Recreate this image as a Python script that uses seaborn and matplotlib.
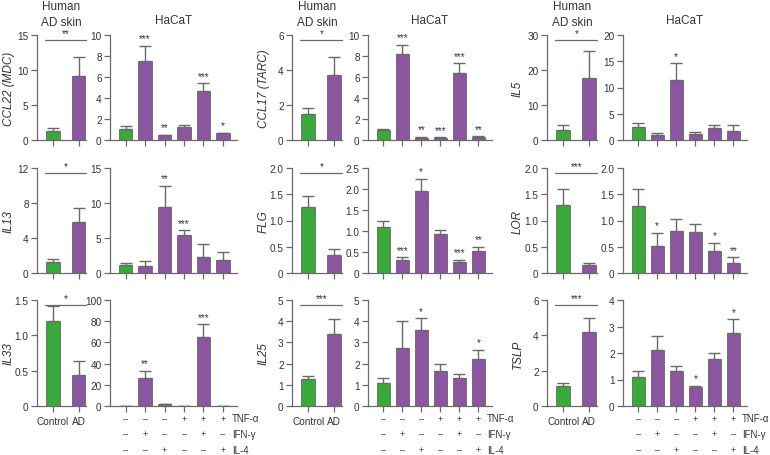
import numpy as np
import pandas as pd
import matplotlib
matplotlib.use("Agg")
import matplotlib.pyplot as plt
import matplotlib.transforms as mtransforms
import seaborn as sns

# ── Data ──────────────────────────────────────────────────────────────────────
genes = ["CCL22 (MDC)", "CCL17 (TARC)", "IL5",
         "IL13", "FLG", "LOR",
         "IL33", "IL25", "TSLP"]

skin_groups = ["Control", "AD"]
hacat_groups = ["1", "2", "3", "4", "5", "6"]

skin_mean = [[1.35, 9.1], [1.5, 3.7], [3.0, 17.8],
             [1.25, 5.8], [1.25, 0.35], [1.3, 0.15],
             [1.2, 0.44], [1.27, 3.38], [1.15, 4.2]]
skin_err = [[0.3, 2.7], [0.35, 1.05], [1.3, 7.5],
            [0.35, 1.6], [0.22, 0.1], [0.3, 0.05],
            [0.22, 0.19], [0.13, 0.72], [0.15, 0.77]]
skin_sig = ["**", "*", "*", "*", "*", "***", "*", "***", "***"]

hacat_mean = [[1.05, 7.55, 0.45, 1.25, 4.7, 0.65],
              [1.0, 8.2, 0.2, 0.2, 6.4, 0.3],
              [2.4, 0.95, 11.4, 1.1, 2.3, 1.7],
              [1.1, 1.05, 9.5, 5.5, 2.3, 1.9],
              [1.1, 0.32, 1.96, 0.92, 0.26, 0.52],
              [1.27, 0.52, 0.8, 0.78, 0.42, 0.2],
              [0.3, 26, 1.5, 0.2, 65.5, 0.3],
              [1.1, 2.75, 3.57, 1.65, 1.3, 2.23],
              [1.1, 2.12, 1.32, 0.72, 1.78, 2.77]]
hacat_err = [[0.3, 1.45, 0.05, 0.2, 0.7, 0.05],
             [0.05, 0.85, 0.1, 0.05, 0.9, 0.05],
             [0.8, 0.35, 3.2, 0.4, 0.5, 1.2],
             [0.4, 0.6, 2.9, 0.6, 1.8, 1.1],
             [0.14, 0.05, 0.29, 0.11, 0.06, 0.1],
             [0.33, 0.25, 0.22, 0.16, 0.16, 0.1],
             [0.0, 7.0, 0.0, 0.0, 11.5, 0.0],
             [0.23, 1.28, 0.56, 0.35, 0.22, 0.42],
             [0.23, 0.53, 0.2, 0.03, 0.22, 0.5]]
hacat_sig = [["", "***", "**", "", "***", "*"],
             ["", "***", "**", "***", "***", "**"],
             ["", "", "*", "", "", ""],
             ["", "", "**", "***", "", ""],
             ["", "***", "*", "", "***", "**"],
             ["", "*", "", "", "*", "**"],
             ["", "**", "", "", "***", ""],
             ["", "", "*", "", "", "*"],
             ["", "", "", "*", "", "*"]]

skin_ymax = [15, 6, 30, 12, 2.0, 2.0, 1.5, 5, 6]
skin_step = [5, 2, 10, 4, 0.5, 0.5, 0.5, 1, 2]
hacat_ymax = [10, 10, 20, 15, 2.5, 2.0, 100, 5, 4]
hacat_step = [2, 2, 5, 5, 0.5, 0.5, 20, 1, 1]

treatments = ["TNF-α", "IFN-γ", "IL-4"]
treat_signs = [["–", "–", "–", "+", "+", "+"],
               ["–", "+", "–", "–", "+", "–"],
               ["–", "–", "+", "–", "–", "+"]]

# ── Style ─────────────────────────────────────────────────────────────────────
GREEN = "#3aa83a"
PURPLE = "#8c55a0"
GREY = "#6a6a6a"
TXT = "#333333"

sns.set_theme(style="ticks")
plt.rcParams["font.family"] = ["Liberation Sans", "DejaVu Sans"]
plt.rcParams["axes.edgecolor"] = GREY
plt.rcParams["xtick.color"] = GREY
plt.rcParams["ytick.color"] = GREY
plt.rcParams["xtick.labelcolor"] = TXT
plt.rcParams["ytick.labelcolor"] = TXT

W, H = 770, 456
fig = plt.figure(figsize=(W / 100, H / 100), dpi=100)

rows_px = [(36, 141), (169, 274), (301, 407)]
skin_cols_px = [(37, 86), (292, 342), (547, 597)]
hacat_cols_px = [(110, 237), (368, 492), (623, 747)]
ylabel_right_px = [15, 270, 524]


def add_ax(xpx, ypx):
    x0, x1 = xpx
    top, bot = ypx
    return fig.add_axes([x0 / W, 1 - bot / H, (x1 - x0) / W, (bot - top) / H])


def fmt_ticks(ax, ymax, step):
    ticks = np.arange(0, ymax + step / 2, step)
    ax.set_ylim(0, ymax)
    ax.set_yticks(ticks)
    labels = []
    for t in ticks:
        if t == 0:
            labels.append("0")
        elif step < 1:
            labels.append(f"{t:.1f}")
        else:
            labels.append(f"{t:g}")
    ax.set_yticklabels(labels, fontsize=7.2)


def style(ax):
    sns.despine(ax=ax)
    ax.tick_params(axis="y", length=4, width=0.9, pad=2)
    ax.tick_params(axis="x", length=4, width=0.9, pad=3)
    for s in ["left", "bottom"]:
        ax.spines[s].set_linewidth(0.9)
    ax.set_xlabel("")
    ax.set_ylabel("")


def bars(ax, groups, mean, err, colors, width):
    df = pd.DataFrame({"group": groups, "value": mean})
    sns.barplot(data=df, x="group", y="value", hue="group", palette=colors,
                order=groups, hue_order=groups, width=width, errorbar=None,
                saturation=1, legend=False, edgecolor="#555555",
                linewidth=0.5, ax=ax)
    xs = np.arange(len(groups))
    ax.errorbar(xs, mean, yerr=[np.zeros(len(mean)), err], fmt="none",
                ecolor=GREY, elinewidth=1, capsize=4, capthick=1, zorder=1)
    return xs


for i, gene in enumerate(genes):
    r, c = divmod(i, 3)

    # Human AD skin panel
    ax = add_ax(skin_cols_px[c], rows_px[r])
    bars(ax, skin_groups, skin_mean[i], skin_err[i], [GREEN, PURPLE], 0.53)
    style(ax)
    fmt_ticks(ax, skin_ymax[i], skin_step[i])
    ax.set_xlim(-0.62, 1.29)
    ymax = skin_ymax[i]
    ax.plot([-0.3, 1.29], [ymax * 0.955] * 2, color=GREY, lw=0.9,
            clip_on=False)
    ax.text(0.5, ymax * 0.975, skin_sig[i], ha="center", va="bottom",
            fontsize=7, color=TXT)
    if r == 2:
        ax.set_xticks([0, 1])
        ax.set_xticklabels(skin_groups, fontsize=7.2)
    else:
        ax.set_xticklabels([])
    ax.set_ylabel(gene, fontsize=8.5, style="italic", color=TXT)
    x0, x1 = skin_cols_px[c]
    ax.yaxis.set_label_coords((ylabel_right_px[c] - x0) / (x1 - x0), 0.5)
    if r == 0:
        ax.text(0.5, 1 - 0.5 / H, "Human\nAD skin",
                transform=mtransforms.blended_transform_factory(
                    ax.transAxes, fig.transFigure),
                ha="center", va="top", fontsize=8.5, color=TXT,
                linespacing=1.45)

    # HaCaT panel
    ax = add_ax(hacat_cols_px[c], rows_px[r])
    xs = bars(ax, hacat_groups, hacat_mean[i], hacat_err[i],
              [GREEN] + [PURPLE] * 5, 0.7)
    style(ax)
    fmt_ticks(ax, hacat_ymax[i], hacat_step[i])
    ax.set_xlim(-0.8, 5.72)
    ax.set_xticklabels([])
    off = hacat_ymax[i] * 0.025
    for x, m, e, s in zip(xs, hacat_mean[i], hacat_err[i], hacat_sig[i]):
        if s:
            ax.text(x, m + e + off, s, ha="center", va="bottom", fontsize=7,
                    color=TXT)
    if r == 0:
        ax.text(0.5, 1 - 21 / H, "HaCaT",
                transform=mtransforms.blended_transform_factory(
                    ax.transAxes, fig.transFigure),
                ha="center", va="center", fontsize=8.5, color=TXT)
    if r == 2:
        trans = mtransforms.blended_transform_factory(ax.transData,
                                                      ax.transAxes)
        for k, (name, signs) in enumerate(zip(treatments, treat_signs)):
            yk = -0.115 - 0.148 * k
            for x, s in zip(xs, signs):
                ax.text(x, yk, s, transform=trans, ha="center", va="center",
                        fontsize=6.5, color=TXT)
            ax.text(5.45, yk, name, transform=trans, ha="left", va="center",
                    fontsize=7, color=TXT)

fig.savefig("out.png", dpi=100)
